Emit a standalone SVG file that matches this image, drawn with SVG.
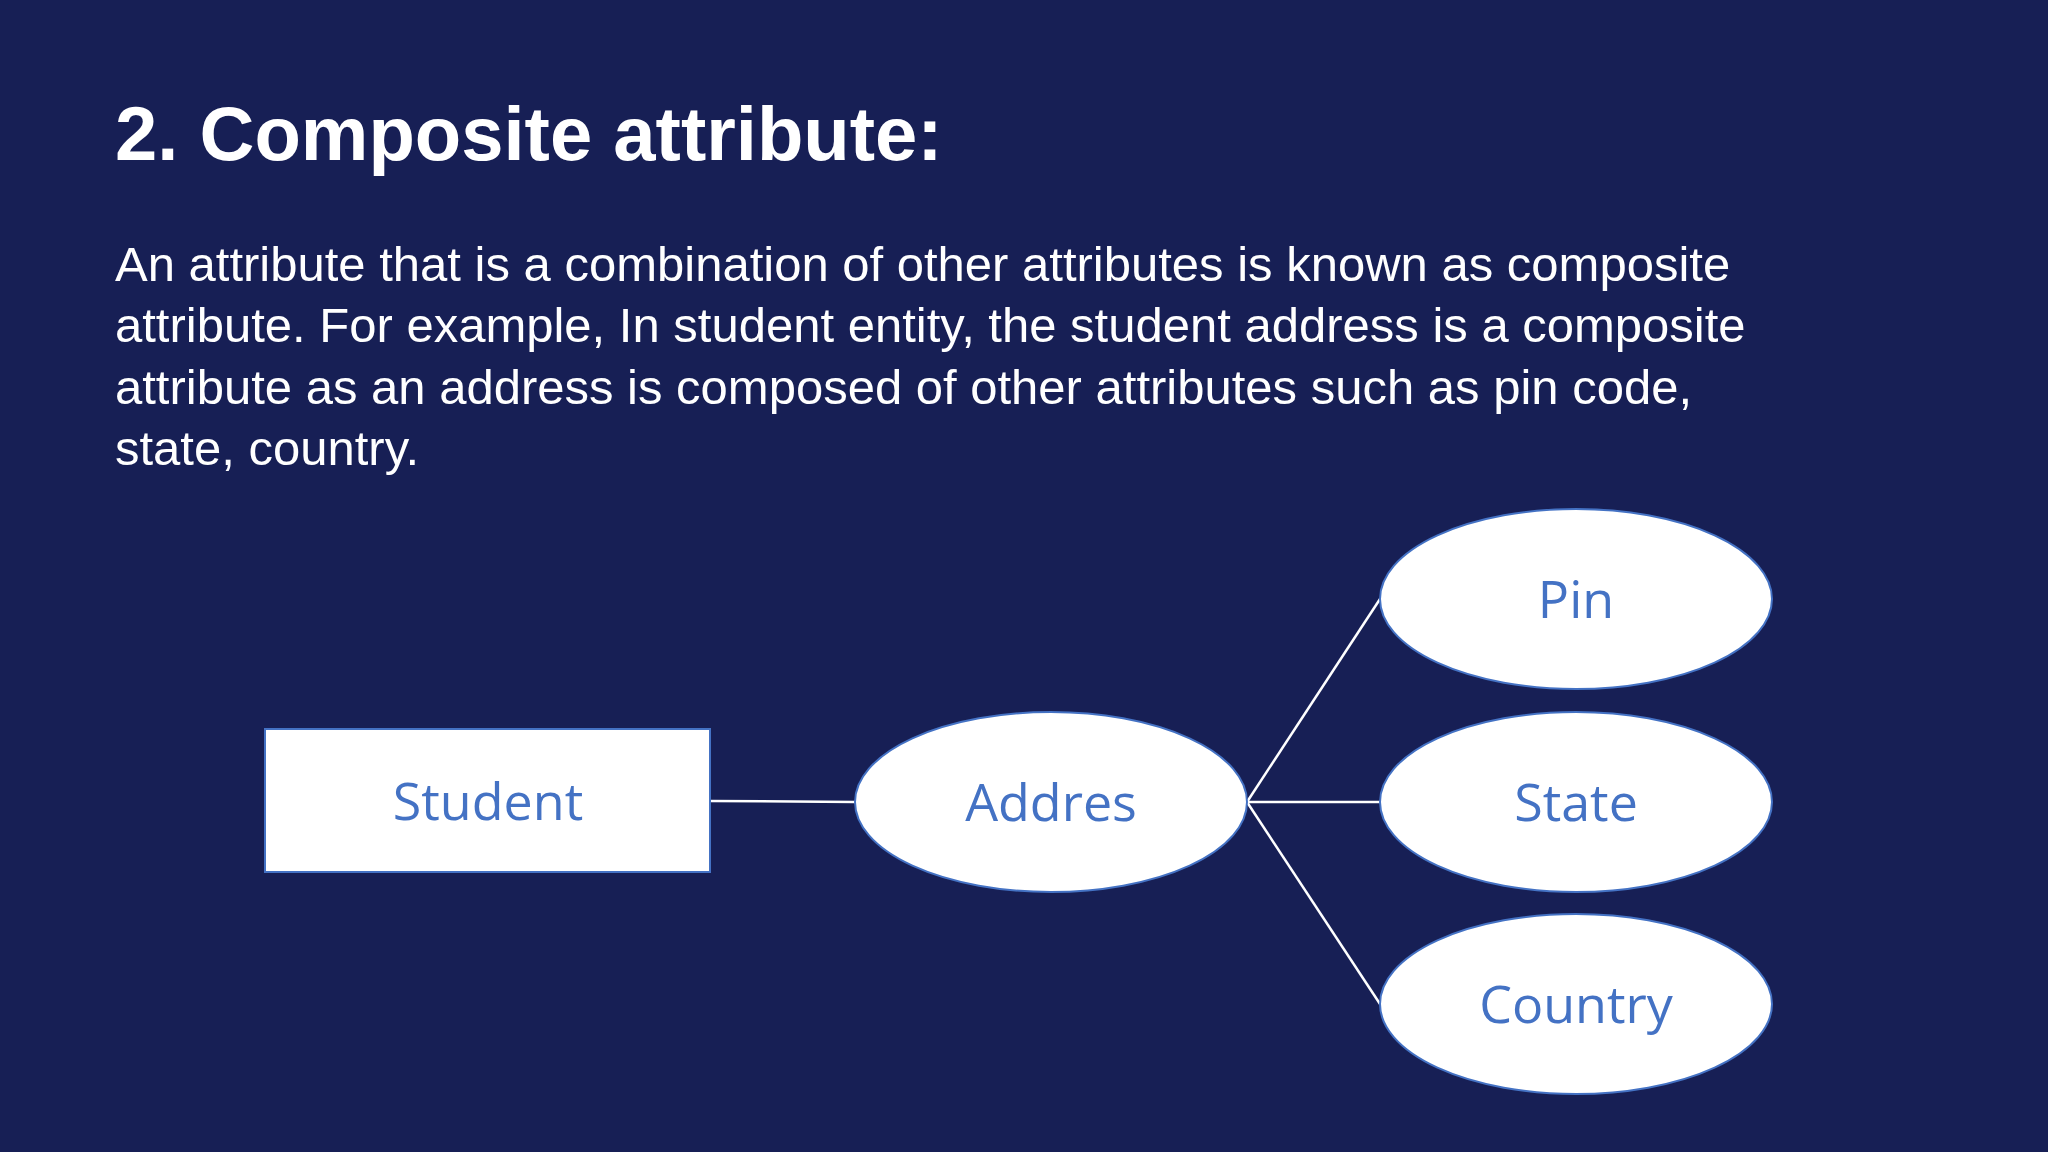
<svg xmlns="http://www.w3.org/2000/svg" width="2048" height="1152" viewBox="0 0 2048 1152">
<style>
.node{fill:#fff;stroke:#4472C4;stroke-width:2}
.lbl{font-family:"Open Sans","Liberation Sans",sans-serif;font-size:52px;fill:#4472C4;text-anchor:middle}
.body{font-family:"Liberation Sans",Arial,sans-serif;font-size:49px;fill:#fff}
.con{stroke:#fff;stroke-width:2.5;fill:none}
</style>
<rect width="2048" height="1152" fill="#171F55"/>
<text x="115" y="160" font-family="Liberation Sans,Arial,sans-serif" font-weight="bold" font-size="76" fill="#fff">2. Composite attribute:</text>
<text class="body" x="115" y="281">An attribute that is a combination of other attributes is known as composite</text>
<text class="body" x="115" y="342">attribute. For example, In student entity, the student address is a composite</text>
<text class="body" x="115" y="404">attribute as an address is composed of other attributes such as pin code,</text>
<text class="body" x="115" y="465">state, country.</text>
<g id="connectors">
<line class="con" x1="710" y1="801" x2="855" y2="802"/>
<line class="con" x1="1247" y1="802" x2="1380" y2="599"/>
<line class="con" x1="1247" y1="802" x2="1380" y2="802"/>
<line class="con" x1="1247" y1="802" x2="1380" y2="1004"/>
</g>
<g id="student"><rect class="node" x="265" y="729" width="445" height="143"/><text class="lbl" x="488" y="820">Student</text></g>
<g id="addres"><ellipse class="node" cx="1051" cy="802" rx="196" ry="90"/><text class="lbl" x="1051" y="821">Addres</text></g>
<g id="pin"><ellipse class="node" cx="1576" cy="599" rx="196" ry="90"/><text class="lbl" x="1576" y="618">Pin</text></g>
<g id="state"><ellipse class="node" cx="1576" cy="802" rx="196" ry="90"/><text class="lbl" x="1576" y="821">State</text></g>
<g id="country"><ellipse class="node" cx="1576" cy="1004" rx="196" ry="90"/><text class="lbl" x="1576" y="1023">Country</text></g>
</svg>
